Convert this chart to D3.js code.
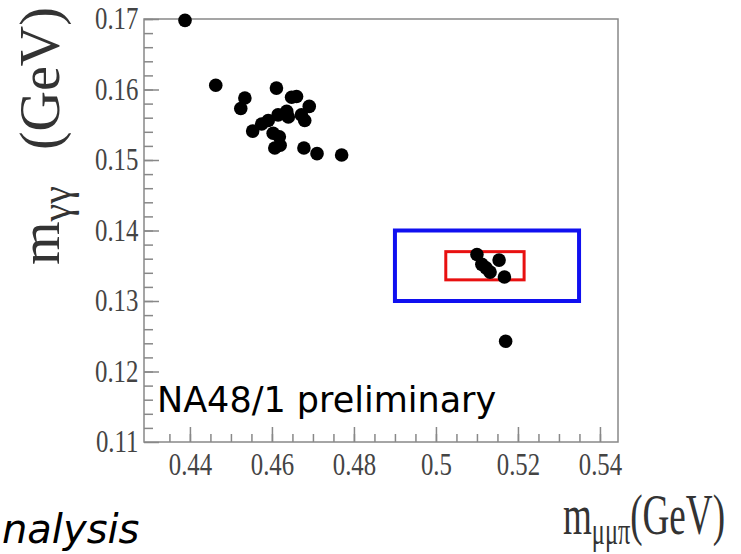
<!DOCTYPE html>
<meta charset="utf-8">
<style>
body {
  margin: 0;
  background-color: #fff;
}
.tick text {
  font-family: "Liberation Serif", "DejaVu Serif", serif;
  font-size: 31px;
  fill: #444;
}
.tick line {
  stroke: #888;
  stroke-width: 1.5px;
}
.frame {
  fill: none;
  stroke: #888;
  stroke-width: 1.5px;
}
.title {
  font-family: "Liberation Serif", serif;
  fill: #333;
}
</style>
<svg class="scatter" width="741" height="554"></svg>

<script src="https://cdn.jsdelivr.net/npm/d3@7"></script>
<script>
// m_mumupi (GeV), m_gammagamma (GeV) for each event
var mMuMuPi = [0.4388, 0.4463, 0.4611, 0.4534, 0.4524, 0.4648, 0.4660, 0.4691, 0.4636, 0.4615,
               0.4640, 0.4672, 0.4680, 0.4591, 0.4575, 0.4553, 0.4603, 0.4618, 0.4620, 0.4607,
               0.4678, 0.4710, 0.4770,
               0.5100, 0.5112, 0.5122, 0.5132, 0.5154, 0.5167, 0.5170];
var mGG =     [0.1698, 0.1606, 0.1602, 0.1588, 0.1573, 0.1589, 0.1590, 0.1576, 0.1569, 0.1564,
               0.1561, 0.1564, 0.1556, 0.1556, 0.1551, 0.1541, 0.1538, 0.1533, 0.1521, 0.1517,
               0.1517, 0.1509, 0.1507,
               0.1366, 0.1352, 0.1347, 0.1341, 0.1358, 0.1334, 0.1243];

// signal boxes [xmin, xmax, ymin, ymax]
var blueBox = [0.4900, 0.5349, 0.13, 0.14];
var redBox = [0.5024, 0.5215, 0.133, 0.137];

var xTicks = [0.44, 0.46, 0.48, 0.5, 0.52, 0.54];
var yTicks = [0.11, 0.12, 0.13, 0.14, 0.15, 0.16, 0.17];
var xMinor = d3.range(0.435, 0.544, 0.005);
var yMinor = d3.range(0.112, 0.17, 0.002);

var svg = d3.select(".scatter");

var xMin = 0.4288, xMax = 0.5444;
var x = d3.scaleLinear().domain([xMin, xMax]).range([144, 618]);
var y = d3.scaleLinear().domain([0.11, 0.17]).range([442, 19]);

var fmt = d3.format(".2~f");

// minor ticks
svg.append("g")
    .attr("class", "x minor")
    .attr("transform", "translate(0," + y(0.11) + ")")
    .call(d3.axisBottom(x).tickValues(xMinor).tickSizeInner(-8).tickSizeOuter(0).tickFormat(""))
    .select(".domain").remove();
svg.append("g")
    .attr("class", "y minor")
    .attr("transform", "translate(" + x(xMin) + ",0)")
    .call(d3.axisLeft(y).tickValues(yMinor).tickSizeInner(-9).tickSizeOuter(0).tickFormat(""))
    .select(".domain").remove();

// major ticks + labels
svg.append("g")
    .attr("class", "x axis")
    .attr("transform", "translate(0," + y(0.11) + ")")
    .call(d3.axisBottom(x).tickValues(xTicks).tickSizeInner(-15).tickSizeOuter(0).tickPadding(11).tickFormat(fmt))
    .select(".domain").remove();
svg.append("g")
    .attr("class", "y axis")
    .attr("transform", "translate(" + x(xMin) + ",0)")
    .call(d3.axisLeft(y).tickValues(yTicks).tickSizeInner(-15).tickSizeOuter(0).tickPadding(7).tickFormat(fmt))
    .select(".domain").remove();
// labels in the picture are narrow
svg.selectAll(".axis .tick text").attr("transform", "scale(0.8,1)");

svg.append("rect")
    .attr("class", "frame")
    .attr("x", x(xMin))
    .attr("y", y(0.17))
    .attr("width", x(xMax) - x(xMin))
    .attr("height", y(0.11) - y(0.17));

function drawBox(b, color, w) {
  svg.append("rect")
      .attr("x", x(b[0]))
      .attr("y", y(b[3]))
      .attr("width", x(b[1]) - x(b[0]))
      .attr("height", y(b[2]) - y(b[3]))
      .attr("fill", "none")
      .attr("stroke", color)
      .attr("stroke-width", w);
}
drawBox(blueBox, "#1010f0", 4);
drawBox(redBox, "#e81010", 3);

svg.selectAll(".dot")
    .data(d3.range(mMuMuPi.length))
  .enter().append("circle")
    .attr("class", "dot")
    .attr("cx", function(i) { return x(mMuMuPi[i]); })
    .attr("cy", function(i) { return y(mGG[i]); })
    .attr("r", 6.8)
    .attr("fill", "#000");

svg.append("text")
    .attr("x", 157)
    .attr("y", 412)
    .style("font-family", "DejaVu Sans, sans-serif")
    .style("font-size", "35px")
    .text("NA48/1 preliminary");

svg.append("text")
    .attr("x", 2)
    .attr("y", 543)
    .style("font-family", "DejaVu Sans, sans-serif")
    .style("font-style", "italic")
    .style("font-size", "40px")
    .text("nalysis");

// x title
var xt = svg.append("text")
    .attr("class", "title")
    .attr("transform", "translate(725,534) scale(0.64,1)")
    .attr("text-anchor", "end")
    .style("font-size", "58px");
xt.append("tspan").text("m");
xt.append("tspan").attr("dy", 10).style("font-size", "38px").text("μμπ");
xt.append("tspan").attr("dy", -10).text("(GeV)");

// y title
var yt = svg.append("text")
    .attr("class", "title")
    .attr("transform", "translate(59,265) rotate(-90)")
    .style("font-size", "56px");
yt.append("tspan").text("m");
yt.append("tspan").attr("dy", 11).style("font-size", "40px").text("γγ");
yt.append("tspan").attr("dy", -11).attr("dx", 36).text("(GeV)");
</script>
